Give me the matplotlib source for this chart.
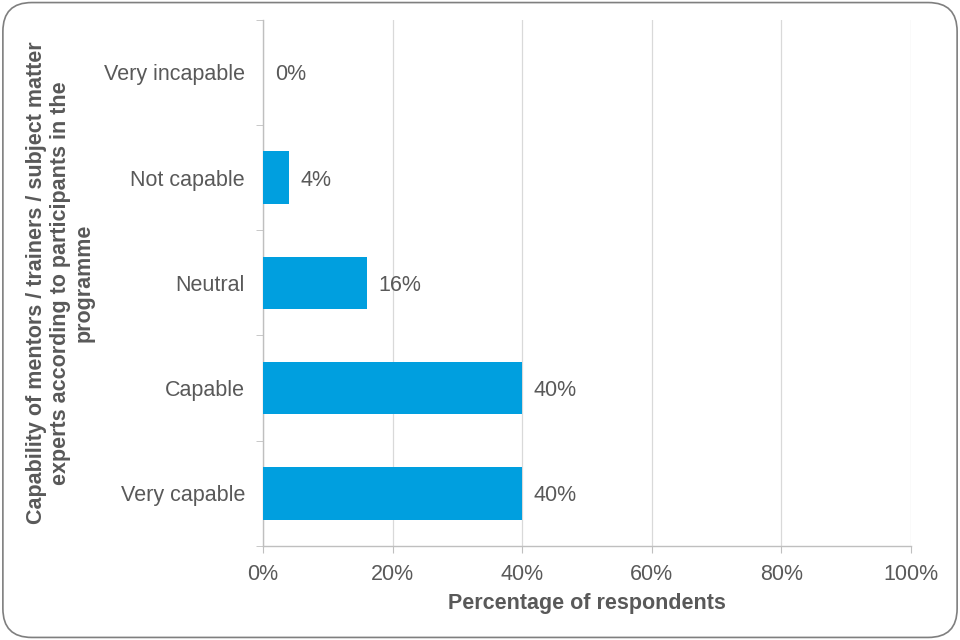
import matplotlib
matplotlib.use('Agg')
import matplotlib.pyplot as plt
from matplotlib.patches import FancyBboxPatch
from matplotlib.ticker import PercentFormatter

plt.rcParams['font.family'] = ['Liberation Sans', 'DejaVu Sans']

categories = ['Very capable', 'Capable', 'Neutral', 'Not capable', 'Very incapable']
percentages = [40, 40, 16, 4, 0]
x_ticks = [0, 20, 40, 60, 80, 100]

text_grey = '#595959'
axis_grey = '#bfbfbf'
bar_blue = '#009fdf'

fig = plt.figure(figsize=(9.6, 6.4), dpi=100)
ax = fig.add_axes([0.274, 0.147, 0.675, 0.822])

positions = range(len(categories))
ax.barh(positions, percentages, height=0.5, color=bar_blue, zorder=3)

for pos, val in zip(positions, percentages):
    ax.text(val + 1.8, pos, '{}%'.format(val), va='center_baseline', ha='left',
            fontsize=15.5, color=text_grey)

ax.set_xlim(0, 100)
ax.set_ylim(-0.5, len(categories) - 0.5)
ax.set_xticks(x_ticks)
ax.xaxis.set_major_formatter(PercentFormatter(decimals=0))
ax.set_yticks(list(positions))
ax.set_yticklabels(categories)
ax.set_yticks([p - 0.5 for p in range(len(categories) + 1)], minor=True)

ax.tick_params(axis='y', which='major', length=0, pad=13, labelsize=15.5, labelcolor=text_grey)
ax.tick_params(axis='y', which='minor', length=5, color=axis_grey, direction='out')
ax.tick_params(axis='x', length=5, color=axis_grey, labelsize=15.5, labelcolor=text_grey, pad=8)

ax.grid(axis='x', color='#d9d9d9', linewidth=0.9, zorder=0)
for side in ['top', 'right']:
    ax.spines[side].set_visible(False)
for side in ['left', 'bottom']:
    ax.spines[side].set_color(axis_grey)
    ax.spines[side].set_linewidth(1.0)

ax.set_xlabel('Percentage of respondents', fontsize=15.5, fontweight='bold',
              color=text_grey, labelpad=6)
ax.set_ylabel('Capability of mentors / trainers / subject matter\n'
              'experts according to participants in the\nprogramme',
              fontsize=15.5, fontweight='bold', color=text_grey, labelpad=7,
              linespacing=1.15)

frame = FancyBboxPatch((0.003, 0.004), 0.994, 0.992,
                       boxstyle='round,pad=0,rounding_size=0.03',
                       transform=fig.transFigure, facecolor='none',
                       edgecolor='#7f7f7f', linewidth=1.2, mutation_aspect=1.5)
fig.patches.append(frame)

fig.savefig('out.png', dpi=100)
